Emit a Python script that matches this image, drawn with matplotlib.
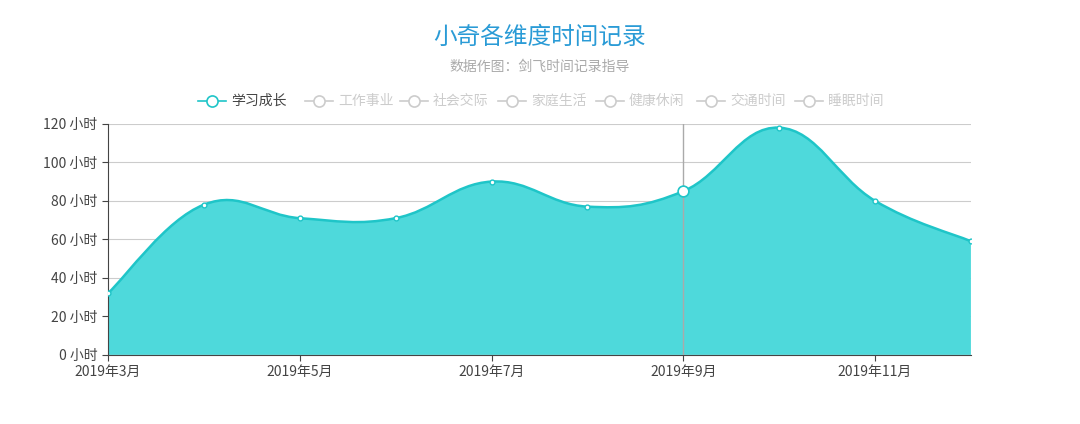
import matplotlib
matplotlib.use("Agg")
import matplotlib.pyplot as plt
import numpy as np
from matplotlib.path import Path
from matplotlib.patches import PathPatch
from matplotlib.lines import Line2D

plt.rcParams['font.family'] = ['Noto Sans CJK SC', 'DejaVu Sans']

months = ["2019年3月","2019年4月","2019年5月","2019年6月","2019年7月","2019年8月","2019年9月","2019年10月","2019年11月","2019年12月"]
values = [32, 78, 71, 71, 90, 77, 85, 118, 80, 59]
legend_names = ["学习成长","工作事业","社会交际","家庭生活","健康休闲","交通时间","睡眠时间"]
yticks = [0, 20, 40, 60, 80, 100, 120]

fig = plt.figure(figsize=(10.8, 4.24), dpi=100)
ax = fig.add_axes([0.1, 0.163, 0.799, 0.545])
x = np.arange(len(values))
y = np.array(values, float)

# bezier smoothing path
k = 0.2
verts = [(x[0], y[0])]; codes = [Path.MOVETO]
for i in range(len(x) - 1):
    p0 = np.array([x[max(i-1,0)], y[max(i-1,0)]])
    p1 = np.array([x[i], y[i]]); p2 = np.array([x[i+1], y[i+1]])
    p3 = np.array([x[min(i+2,len(x)-1)], y[min(i+2,len(x)-1)]])
    c1 = p1 + (p2 - p0) * k; c2 = p2 - (p3 - p1) * k
    verts += [tuple(c1), tuple(c2), tuple(p2)]; codes += [Path.CURVE4]*3
line_path = Path(verts, codes)
fill_path = Path(verts + [(x[-1], 0), (x[0], 0), (x[0], y[0])],
                 codes + [Path.LINETO, Path.LINETO, Path.CLOSEPOLY])
ax.add_patch(PathPatch(fill_path, facecolor='#4ed9db', edgecolor='none', zorder=2))
ax.add_patch(PathPatch(line_path, facecolor='none', edgecolor='#1fc5c8', lw=1.8, zorder=3))
ax.scatter(x, y, s=12, facecolor='white', edgecolor='#1fc5c8', lw=1, zorder=4)
ax.axvline(6, color='#aaaaaa', lw=1, zorder=3.5)
ax.scatter([6], [y[6]], s=60, facecolor='white', edgecolor='#1fc5c8', lw=1.2, zorder=5)

ax.set_xlim(0, len(x) - 1)
ax.set_ylim(0, 120)
ax.set_yticks(yticks)
ax.set_yticklabels([f"{v} 小时" for v in yticks], fontsize=10, color='#444444')
ax.set_xticks(x[::2])
ax.set_xticklabels(months[::2], fontsize=10, color='#444444')
ax.grid(axis='y', color='#cccccc', lw=0.8, zorder=1)
ax.set_axisbelow(True)
for s in ['top', 'right']:
    ax.spines[s].set_visible(False)
ax.spines['left'].set_color('#444444')
ax.spines['bottom'].set_color('#444444')
ax.tick_params(axis='x', length=4, color='#444444')
ax.tick_params(axis='y', length=4, color='#444444')

fig.text(0.5, 0.912, "小奇各维度时间记录", ha='center', va='center', fontsize=17, color='#2a9bd6')
fig.text(0.5, 0.842, "数据作图：剑飞时间记录指导", ha='center', va='center', fontsize=10, color='#aaaaaa')

icon_x = [198, 305, 400, 498, 596, 697, 795]
ly = 1 - 101/424
for i, (ix, name) in enumerate(zip(icon_x, legend_names)):
    c = '#1fc5c8' if i == 0 else '#cccccc'
    tc = '#444444' if i == 0 else '#cccccc'
    fx0 = ix/1080; fx1 = (ix+28)/1080
    fig.add_artist(Line2D([fx0, fx1], [ly, ly], color=c, lw=1.2, transform=fig.transFigure))
    fig.add_artist(Line2D([(fx0+fx1)/2], [ly], marker='o', ms=8, mfc='white', mec=c, mew=1.2,
                          transform=fig.transFigure))
    fig.text((ix+33)/1080, ly, name, ha='left', va='center', fontsize=10, color=tc)

fig.savefig("out.png", dpi=100)
